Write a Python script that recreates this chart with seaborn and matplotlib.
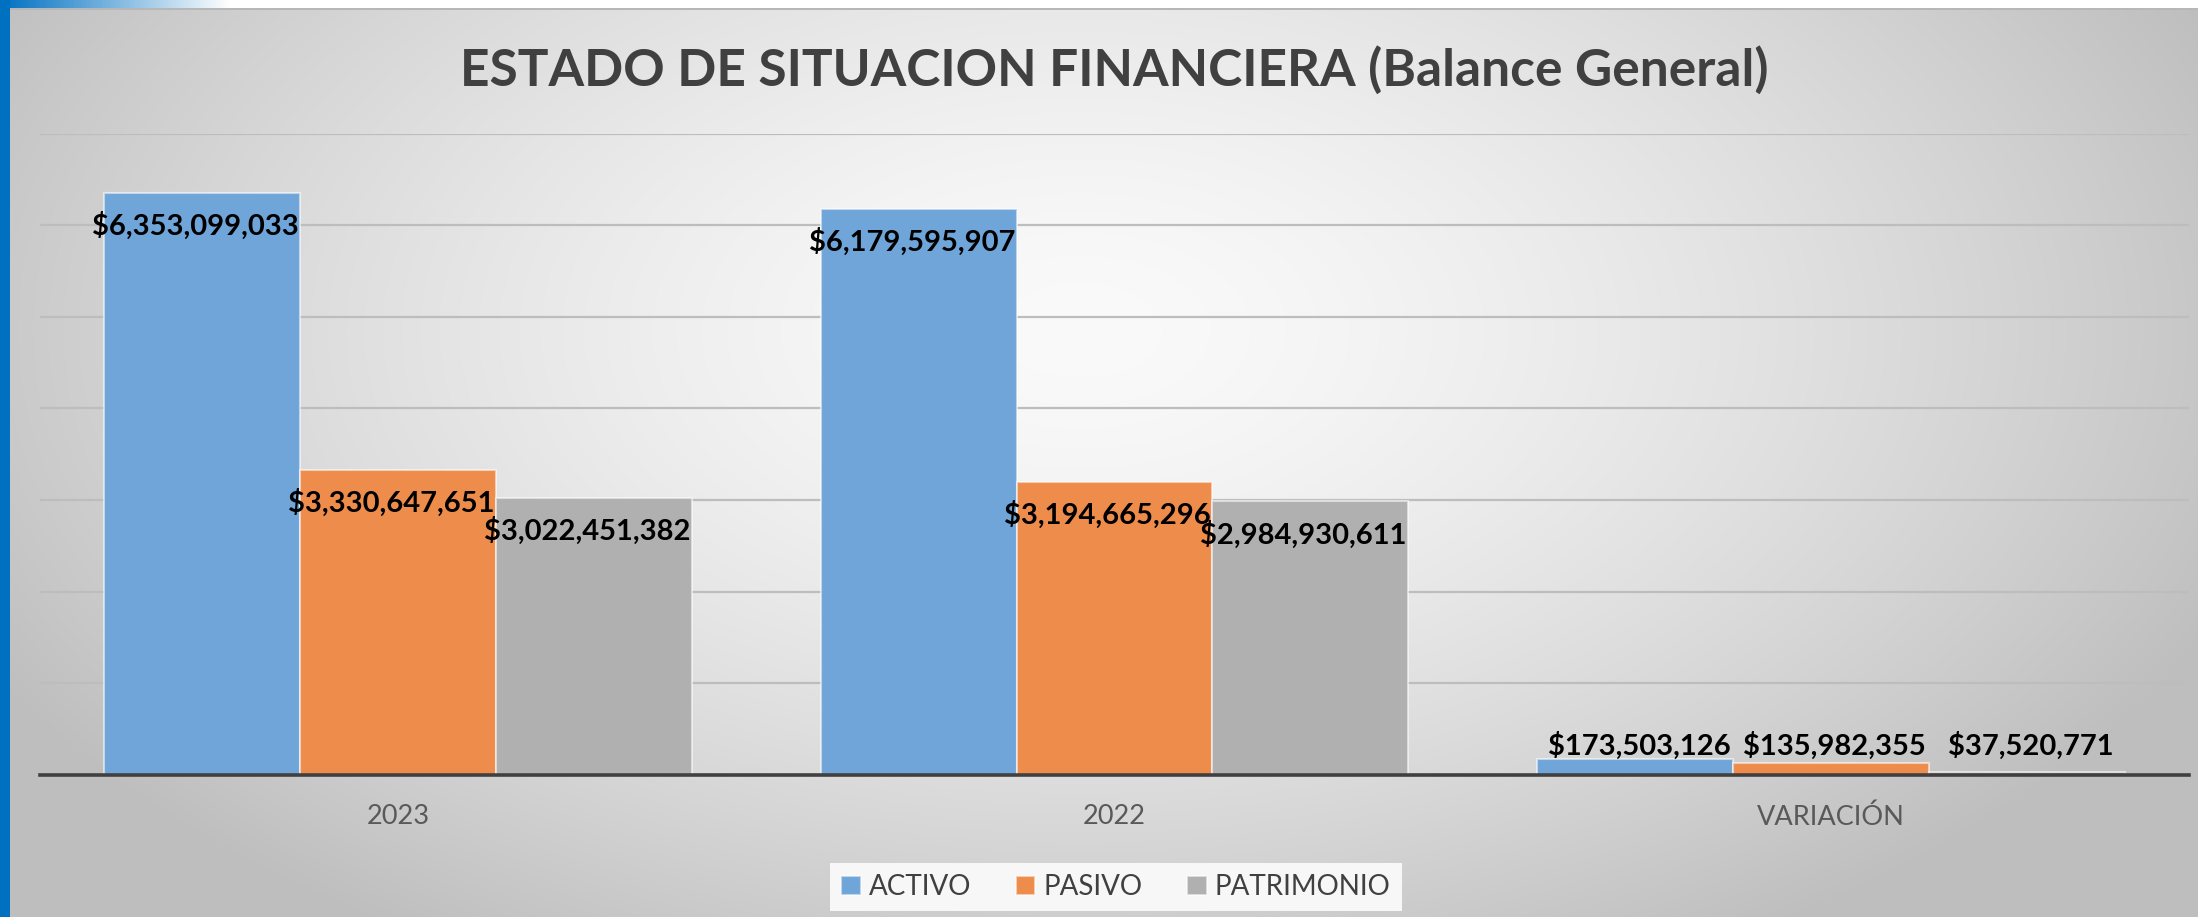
import numpy as np
import pandas as pd
import matplotlib
matplotlib.use("Agg")
import matplotlib.pyplot as plt
import seaborn as sns

# datos del grafico
periodos = ["2023", "2022", "VARIACIÓN"]
cuentas = ["ACTIVO", "PASIVO", "PATRIMONIO"]
activo = [6353099033, 6179595907, 173503126]
pasivo = [3330647651, 3194665296, 135982355]
patrimonio = [3022451382, 2984930611, 37520771]
colores = ["#6FA5D8", "#EE8C4C", "#B0B0B0"]
titulo = "ESTADO DE SITUACION FINANCIERA (Balance General)"

df = pd.DataFrame({
    "Periodo": periodos * 3,
    "Cuenta": np.repeat(cuentas, 3),
    "Valor": activo + pasivo + patrimonio,
})

sns.set_theme(style="white")
plt.rcParams["font.family"] = ["Lato", "DejaVu Sans"]

W, H = 2198, 917
fig = plt.figure(figsize=(W / 100, H / 100), dpi=100)

# fondo con degradado radial gris
bg = fig.add_axes([0, 0, 1, 1], zorder=-10)
yy, xx = np.mgrid[0:H, 0:W]
d = np.sqrt(((xx - 1080) / 1250) ** 2 + ((yy - 330) / 720) ** 2)
shade = (250 - 60 * np.clip(d, 0, 1) ** 1.5) / 255
img = np.dstack([shade, shade, shade])
# franja superior blanca con azul a la izquierda
t = np.clip(xx[:8] / 230, 0, 1)[..., None]
azul = np.array([0.0, 0.44, 0.76])
img[:8] = azul * (1 - t) + np.array([1, 1, 1]) * t
img[8:10] = 0.72
# franja izquierda azul
img[:, :10] = azul
bg.imshow(img, aspect="auto")
bg.axis("off")

ax = fig.add_axes([40 / W, 142 / H, 2149 / W, 641.5 / H])
ax.patch.set_alpha(0)

sns.barplot(data=df, x="Periodo", y="Valor", hue="Cuenta", palette=colores,
            width=0.82, saturation=1, edgecolor=(1, 1, 1, 0.55), linewidth=1.5, ax=ax)

handles, labels = ax.get_legend_handles_labels()
ax.get_legend().remove()

ax.set_ylim(0, 7e9)
ax.set_yticks(np.arange(0, 7.01e9, 1e9))
ax.set_yticklabels([])
ax.yaxis.grid(True, color="#bdbdbd", linewidth=1.6)
ax.set_axisbelow(True)
ax.set_xlabel("")
ax.set_ylabel("")
for s in ["top", "right", "left"]:
    ax.spines[s].set_visible(False)
ax.spines["bottom"].set_color("#404040")
ax.spines["bottom"].set_linewidth(2.6)
ax.tick_params(axis="x", length=0, pad=21, labelsize=19.5, labelcolor="#595959")
ax.tick_params(axis="y", length=0)

# etiquetas de valores
for cont in ax.containers:
    for bar in cont:
        x = bar.get_x() + bar.get_width() / 2
        h = bar.get_height()
        txt = f"${h:,.0f}"
        if h > 1e9:
            ax.annotate(txt, (x, h), xytext=(-7, -33), textcoords="offset pixels",
                        ha="center", va="center", fontsize=21, fontweight="bold", color="black")
        else:
            ax.annotate(txt, (x, 0), xytext=(4, 29), textcoords="offset pixels",
                        ha="center", va="center", fontsize=21, fontweight="bold", color="black")

fig.text(1114 / W, 1 - 70 / H, titulo, ha="center", va="center",
         fontsize=37, fontweight="bold", color="#404040")

leg = fig.legend(handles, labels, loc="center", bbox_to_anchor=(1116 / W, 1 - 887 / H),
                 ncol=3, frameon=True, fancybox=False, facecolor="#f7f7f7", edgecolor="none",
                 framealpha=1, fontsize=20, handlelength=0.7, handleheight=0.7,
                 columnspacing=1.6, handletextpad=0.3, labelcolor="#404040")

fig.savefig("out.png", dpi=100)
